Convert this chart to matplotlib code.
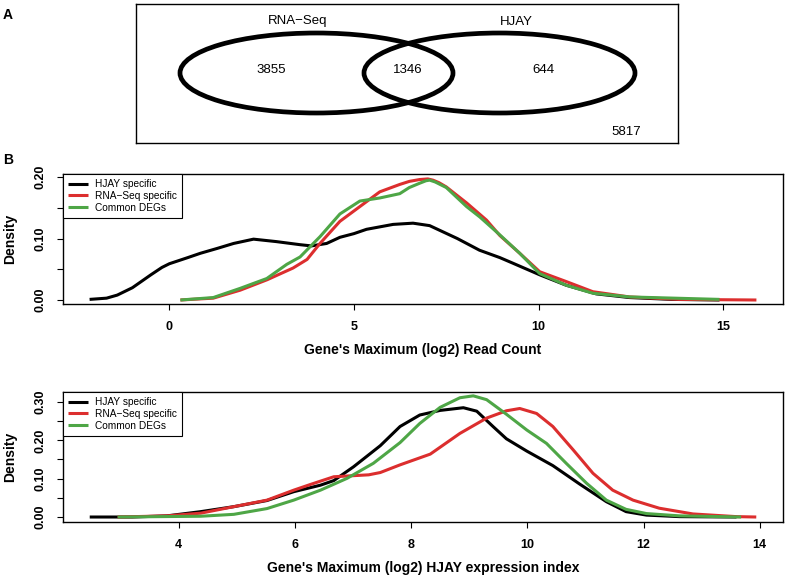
import matplotlib
matplotlib.use("Agg")
import matplotlib.pyplot as plt
from matplotlib.patches import Ellipse

plt.rcParams['font.family'] = ['Liberation Sans', 'DejaVu Sans']

# Venn counts
venn_sets = ['RNA\u2212Seq', 'HJAY']
venn_counts = [3855, 1346, 644]
venn_outside = 5817

series_names = ['HJAY specific', 'RNA\u2212Seq specific', 'Common DEGs']
series_colors = ['#000000', '#dc2e2e', '#4ea646']

# panel B top: max log2 read count densities
rc_black_x = [-2.16, -1.70, -1.41, -1.00, -0.50, -0.20, 0.00, 0.25, 0.50, 0.84, 1.30, 1.74, 2.28, 2.90,
              3.54, 3.85, 4.26, 4.62, 5.00, 5.34, 6.06, 6.60, 7.05, 7.80, 8.40, 8.95, 9.30, 10.03, 10.75,
              11.56, 12.46, 13.60, 14.90]
rc_black_y = [0.001, 0.003, 0.008, 0.020, 0.041, 0.053, 0.059, 0.064, 0.069, 0.076, 0.084, 0.092, 0.099,
              0.095, 0.090, 0.088, 0.092, 0.102, 0.108, 0.115, 0.123, 0.125, 0.121, 0.100, 0.081, 0.069,
              0.060, 0.041, 0.024, 0.010, 0.004, 0.001, 0.000]
rc_red_x = [0.30, 1.19, 1.92, 2.65, 3.35, 3.73, 4.08, 4.62, 5.16, 5.70, 6.24, 6.50, 6.78, 7.00, 7.14,
            7.30, 7.50, 8.05, 8.59, 8.95, 9.49, 10.03, 10.75, 11.47, 12.46, 13.80, 15.90]
rc_red_y = [0.000, 0.003, 0.016, 0.033, 0.052, 0.066, 0.092, 0.128, 0.152, 0.176, 0.188, 0.193, 0.196,
            0.197, 0.195, 0.191, 0.184, 0.158, 0.130, 0.105, 0.076, 0.046, 0.030, 0.0135, 0.005, 0.001,
            0.000]
rc_green_x = [0.30, 1.19, 1.92, 2.64, 3.18, 3.54, 4.08, 4.62, 5.16, 5.70, 6.24, 6.50, 6.78, 6.95, 7.05,
              7.20, 7.50, 8.05, 8.41, 8.95, 9.49, 10.03, 10.75, 11.47, 12.46, 14.90]
rc_green_y = [0.000, 0.004, 0.019, 0.035, 0.058, 0.070, 0.103, 0.140, 0.161, 0.166, 0.173, 0.183, 0.190,
              0.194, 0.195, 0.192, 0.183, 0.152, 0.135, 0.106, 0.076, 0.043, 0.024, 0.011, 0.005, 0.001]

# panel B bottom: max log2 HJAY expression index densities
ex_black_x = [2.47, 3.20, 3.80, 4.38, 4.95, 5.52, 5.98, 6.44, 6.67, 7.01, 7.47, 7.81, 8.15, 8.50, 8.90,
              9.13, 9.41, 9.64, 9.99, 10.44, 10.90, 11.36, 11.70, 12.05, 12.62, 13.60]
ex_black_y = [0.000, 0.000, 0.003, 0.014, 0.027, 0.043, 0.066, 0.083, 0.095, 0.131, 0.186, 0.236, 0.266,
              0.278, 0.285, 0.276, 0.236, 0.204, 0.172, 0.134, 0.086, 0.040, 0.014, 0.005, 0.001, 0.000]
ex_red_x = [2.95, 3.80, 4.38, 4.95, 5.52, 5.98, 6.27, 6.67, 7.27, 7.47, 7.81, 8.33, 8.84, 9.30, 9.64,
            9.87, 10.16, 10.44, 10.79, 11.13, 11.47, 11.82, 12.27, 12.85, 13.60, 13.94]
ex_red_y = [0.000, 0.003, 0.010, 0.027, 0.044, 0.070, 0.085, 0.105, 0.110, 0.116, 0.136, 0.164, 0.218,
            0.258, 0.277, 0.283, 0.270, 0.236, 0.175, 0.114, 0.070, 0.044, 0.023, 0.008, 0.001, 0.000]
ex_green_x = [2.95, 4.38, 4.95, 5.52, 5.98, 6.44, 6.90, 7.35, 7.81, 8.15, 8.50, 8.84, 9.07, 9.30, 9.64,
              9.99, 10.33, 10.67, 11.02, 11.36, 11.70, 12.05, 12.62, 13.68]
ex_green_y = [0.000, 0.002, 0.007, 0.022, 0.044, 0.070, 0.101, 0.140, 0.194, 0.244, 0.286, 0.311, 0.316,
              0.306, 0.268, 0.227, 0.192, 0.140, 0.088, 0.044, 0.020, 0.009, 0.003, 0.000]

W, H = 787, 578
fig = plt.figure(figsize=(W / 100, H / 100), dpi=100)


def px_box(x0, y0, x1, y1):
    return [x0 / W, 1 - y1 / H, (x1 - x0) / W, (y1 - y0) / H]


# ---- panel A: venn ----
axv = fig.add_axes(px_box(136, 4, 678, 143))
axv.set_xlim(136, 678)
axv.set_ylim(143, 4)
axv.set_xticks([])
axv.set_yticks([])
for s in axv.spines.values():
    s.set_linewidth(1.0)
axv.add_patch(Ellipse((316.5, 73), 273, 80, fill=False, lw=3.4, ec='black'))
axv.add_patch(Ellipse((499.5, 73), 271, 80, fill=False, lw=3.4, ec='black'))
axv.text(298, 21, venn_sets[0], ha='center', va='center', fontsize=9.5)
axv.text(516, 22, venn_sets[1], ha='center', va='center', fontsize=9.5)
for xp, c in zip([271, 408, 543], venn_counts):
    axv.text(xp, 70, str(c), ha='center', va='center', fontsize=9.5)
axv.text(626, 132, str(venn_outside), ha='center', va='center', fontsize=9.5)

fig.text(8 / W, 1 - 15 / H, 'A', fontsize=10, fontweight='bold', ha='center', va='center')
fig.text(8 / W, 1 - 160 / H, 'B', fontsize=10, fontweight='bold', ha='center', va='center')


def density_panel(box, curves, xlim, ylim, xticks, yticks, ylabels, xlabel):
    ax = fig.add_axes(box)
    for (xs, ys), col, name in zip(curves, series_colors, series_names):
        ax.plot(xs, ys, color=col, lw=2.2, label=name, solid_joinstyle='round', solid_capstyle='butt')
    ax.set_xlim(*xlim)
    ax.set_ylim(*ylim)
    ax.set_xticks(xticks)
    ax.set_xticklabels([str(t) for t in xticks])
    ax.set_yticks(yticks)
    ax.set_yticklabels(ylabels)
    ax.tick_params(direction='out', length=4, width=0.8, pad=8, labelsize=9)
    ax.tick_params(axis='y', labelrotation=90)
    for lab in ax.get_yticklabels() + ax.get_xticklabels():
        lab.set_fontweight('bold')
    for lab in ax.get_yticklabels():
        lab.set_va('center')
    for s in ax.spines.values():
        s.set_linewidth(1.0)
    ax.set_xlabel(xlabel, fontsize=10, fontweight='bold')
    ax.set_ylabel('Density', fontsize=10, fontweight='bold')
    ax.xaxis.set_label_coords(0.5, -0.354)
    ax.xaxis.label.set_va('center')
    ax.yaxis.set_label_coords(-0.074, 0.5)
    ax.yaxis.label.set_va('center')
    leg = ax.legend(loc='upper left', borderaxespad=0, fontsize=7.3, handlelength=2.0, handletextpad=0.7,
                    labelspacing=0.18, borderpad=0.5, fancybox=False, framealpha=1)
    leg.get_frame().set_edgecolor('black')
    leg.get_frame().set_linewidth(0.8)
    return ax


density_panel(px_box(63, 174, 783, 304),
              [(rc_black_x, rc_black_y), (rc_red_x, rc_red_y), (rc_green_x, rc_green_y)],
              (-2.88, 16.62), (-0.0065, 0.205), [0, 5, 10, 15],
              [0, 0.05, 0.10, 0.15, 0.20], ['0.00', '', '0.10', '', '0.20'],
              "Gene's Maximum (log2) Read Count")

density_panel(px_box(63, 392, 783, 522),
              [(ex_black_x, ex_black_y), (ex_red_x, ex_red_y), (ex_green_x, ex_green_y)],
              (2.01, 14.40), (-0.013, 0.326), [4, 6, 8, 10, 12, 14],
              [0, 0.05, 0.10, 0.15, 0.20, 0.25, 0.30],
              ['0.00', '', '0.10', '', '0.20', '', '0.30'],
              "Gene's Maximum (log2) HJAY expression index")

fig.savefig('out.png', dpi=100)
